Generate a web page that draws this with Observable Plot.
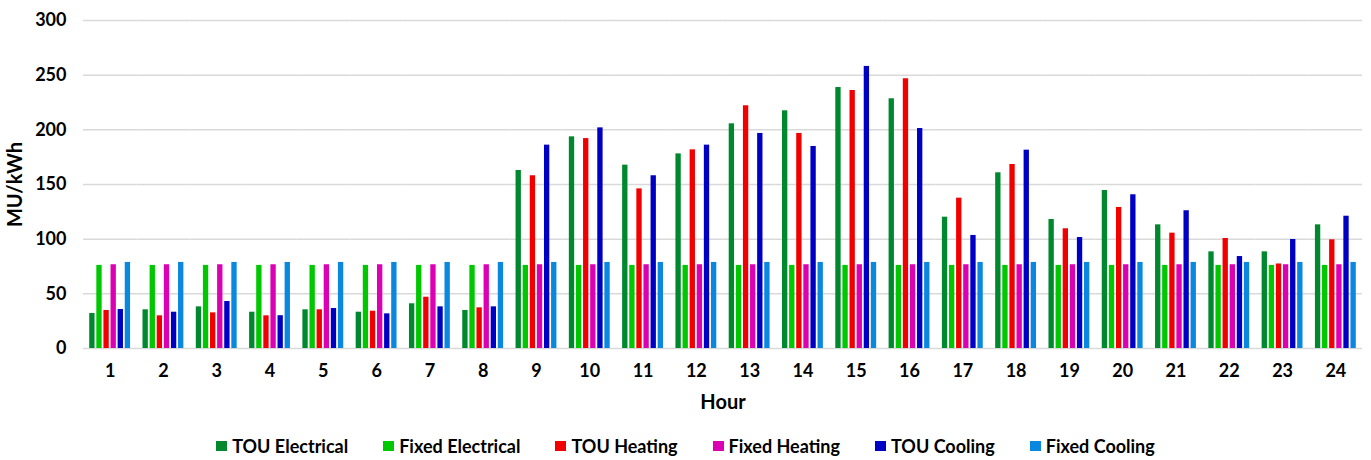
<!DOCTYPE html>
<html>
<head>
<meta charset="utf-8">
<script src="https://cdn.jsdelivr.net/npm/d3@7"></script>
<script src="https://cdn.jsdelivr.net/npm/@observablehq/plot@0.6"></script>
<style>
  html, body { margin: 0; padding: 0; background: #fff; }
  #chart { width: 1371px; font-family: Lato, "Open Sans", sans-serif; }
  .legend { display: flex; justify-content: center; gap: 35px; margin-top: 13px; padding-left: 0px;
            font: bold 18px Lato, "Open Sans", sans-serif; color: #000; }
  .legend .item { display: flex; align-items: center; gap: 5px; }
  .legend .sw { width: 11px; height: 10px; display: inline-block; }
</style>
</head>
<body>
<div id="chart"></div>
<script>
// Hourly cost per kWh under time-of-use (TOU) and fixed tariffs
const hours = [1, 2, 3, 4, 5, 6, 7, 8, 9, 10, 11, 12, 13, 14, 15, 16, 17, 18, 19, 20, 21, 22, 23, 24];
const seriesNames = ["TOU Electrical", "Fixed Electrical", "TOU Heating", "Fixed Heating", "TOU Cooling", "Fixed Cooling"];
const seriesColors = ["#00882e", "#00c800", "#f20000", "#dc00b4", "#0000c4", "#0a88e0"];
const yTicks = [0, 50, 100, 150, 200, 250, 300];

const touElectrical = [32, 35.4, 38.1, 33.2, 35.4, 33.2, 40.9, 34.8, 162.8, 193.6, 167.7, 178, 205.5, 217.4, 238.7, 228.4, 120.1, 160.7, 118, 144.5, 113.1, 88.4, 88.4, 113.1];
const fixedElectrical = [76, 76, 76, 76, 76, 76, 76, 76, 76, 76, 76, 76, 76, 76, 76, 76, 76, 76, 76, 76, 76, 76, 76, 76];
const touHeating = [34.8, 29.9, 32.6, 29.9, 35.4, 34.1, 46.9, 37.2, 158, 192, 146, 181.7, 222, 196.7, 236, 246.7, 137.5, 168.3, 109.5, 129, 105.5, 100.6, 77.3, 99.4];
const fixedHeating = [76.6, 76.6, 76.6, 76.6, 76.6, 76.6, 76.6, 76.6, 76.6, 76.6, 76.6, 76.6, 76.6, 76.6, 76.6, 76.6, 76.6, 76.6, 76.6, 76.6, 76.6, 76.6, 76.6, 76.6];
const touCooling = [35.7, 33.2, 43, 30, 36.6, 31.7, 38.1, 38.1, 186, 201.8, 158, 186, 196.7, 184.8, 258, 201.2, 103.4, 181.4, 101.5, 140.6, 126, 84.1, 99.7, 121];
const fixedCooling = [78.7, 78.7, 78.7, 78.7, 78.7, 78.7, 78.7, 78.7, 78.7, 78.7, 78.7, 78.7, 78.7, 78.7, 78.7, 78.7, 78.7, 78.7, 78.7, 78.7, 78.7, 78.7, 78.7, 78.7];

const seriesValues = [touElectrical, fixedElectrical, touHeating, fixedHeating, touCooling, fixedCooling];

// long-format table: one row per hour and series
const rows = [];
hours.forEach((h, i) => {
  seriesNames.forEach((s, j) => rows.push({hour: h, series: s, value: seriesValues[j][i]}));
});

const plot = Plot.plot({
  width: 1371,
  height: 422,
  marginLeft: 83,
  marginRight: 9,
  marginTop: 20,
  marginBottom: 74,
  style: {fontFamily: "Lato, 'Open Sans', sans-serif", fontWeight: "bold", fontSize: "18px", color: "#000", background: "#fff"},
  fx: {domain: hours, round: false, paddingInner: 0, paddingOuter: 0, axis: "bottom", tickSize: 0, tickPadding: 16,
       label: "Hour", labelAnchor: "center", labelOffset: 60},
  x: {domain: seriesNames, round: false, axis: null, paddingInner: 0.25, paddingOuter: 0.875},
  y: {domain: [0, 300], ticks: yTicks, tickSize: 0, tickPadding: 17,
      label: "MU/kWh", labelAnchor: "center", labelOffset: 76, labelArrow: false},
  color: {domain: seriesNames, range: seriesColors},
  marks: [
    Plot.ruleY(yTicks, {stroke: "#d9d9d9", strokeWidth: 1.5}),
    Plot.barY(rows, {fx: "hour", x: "series", y: "value", fill: "series"})
  ]
});

// axis titles a little larger than the tick labels
d3.select(plot).selectAll("text")
  .filter(function() { return this.textContent === "Hour" || this.textContent === "MU/kWh"; })
  .style("font-size", "20px");

const root = document.getElementById("chart");
root.appendChild(plot);

// legend row below the chart
const legend = d3.select(root).append("div").attr("class", "legend");
const items = legend.selectAll(".item").data(seriesNames).join("div").attr("class", "item");
items.append("span").attr("class", "sw").style("background", (d, i) => seriesColors[i]);
items.append("span").text(d => d);
</script>
</body>
</html>
